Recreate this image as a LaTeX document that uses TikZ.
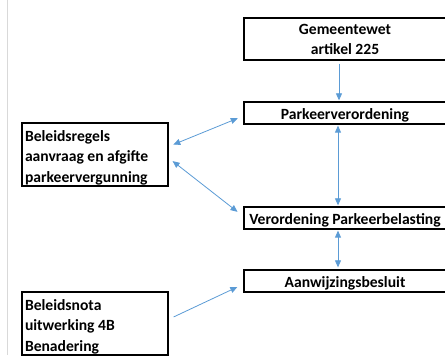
\documentclass[tikz,border=0pt]{standalone}
\usepackage{fontspec}
\setmainfont{Carlito}
\usetikzlibrary{arrows.meta}
\definecolor{linkblue}{HTML}{5B9BD5}

\tikzstyle{box} = [draw,line width=1.3pt,inner sep=0pt,font=\bfseries\fontsize{15.6}{20.5}\selectfont]
\tikzstyle{wide box} = [box,minimum width=202pt,minimum height=22pt,text height=15pt,text depth=1pt]
\tikzstyle{side box} = [box,minimum width=146pt,minimum height=63pt,text width=140pt,align=flush left,text height=14pt,text depth=40pt]
\tikzstyle{link} = [draw,linkblue,line width=0.8pt,-{Triangle[length=7pt,width=6pt]}]
\tikzstyle{both link} = [link,{Triangle[length=7pt,width=6pt]}-{Triangle[length=7pt,width=6pt]}]

\begin{document}
\begin{tikzpicture}[x=1pt,y=1pt]
    \useasboundingbox (0,0) rectangle (445,358);
    \clip (0,0) rectangle (445,358);

    % page margin
    \draw[black!15,line width=1pt] (7,358) -- (7,3);

    \node[wide box,minimum height=42pt,align=center,text height=34pt,text depth=2pt] (gemeentewet) at (345,319) {Gemeentewet\\artikel 225};
    \foreach \nodename/\y/\txt in {
      parkeer/245/Parkeerverordening,
      belasting/140/Verordening Parkeerbelasting,
      aanwijzing/77/Aanwijzingsbesluit}
    {
      \node[wide box] (\nodename) at (345,\y) {\txt};
    }
    \node[side box] (regels) at (95,203.5) {Beleidsregels\\aanvraag en afgifte\\parkeervergunning};
    \node[side box] (nota) at (95,34.5) {Beleidsnota\\uitwerking 4B\\Benadering};

    %edges or lines
    \path
    \foreach \startnode/\sx/\sy/\endnode/\ex/\ey/\sa/\ea in {
      parkeer.south/-7/0/belasting.north/-7/0/1/1,
      belasting.south/-7/0/aanwijzing.north/-7/0/1/2,
      regels.east/0/8/parkeer.west/0/-3/5/6,
      regels.east/0/-3.5/belasting.west/0/1.6/5/7.4}
    {
      ([xshift=\sx pt,yshift=\sy pt]\startnode) edge[both link,shorten <=\sa pt,shorten >=\ea pt] ([xshift=\ex pt,yshift=\ey pt]\endnode)
    };

    \path
    \foreach \startnode/\sx/\sy/\endnode/\ex/\ey/\sa/\ea in {
      gemeentewet.south/-6/0/parkeer.north/-6/0/3/1,
      nota.east/0/4.2/aanwijzing.west/0/-3.2/5.5/6.6}
    {
      ([xshift=\sx pt,yshift=\sy pt]\startnode) edge[link,shorten <=\sa pt,shorten >=\ea pt] ([xshift=\ex pt,yshift=\ey pt]\endnode)
    };

\end{tikzpicture}
\end{document}
